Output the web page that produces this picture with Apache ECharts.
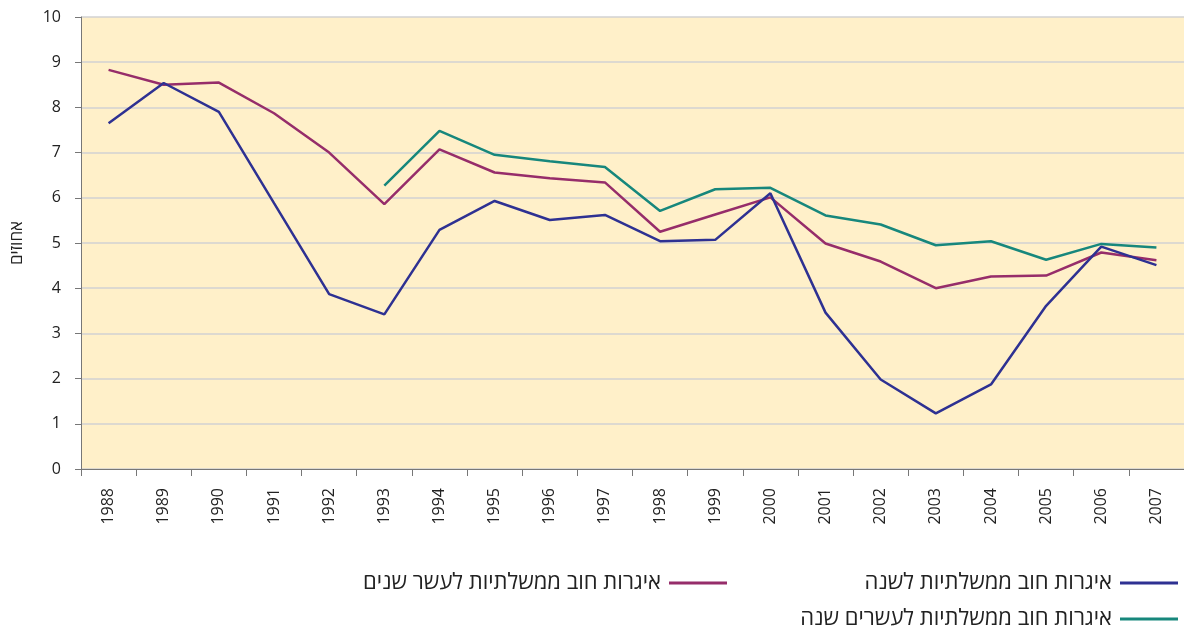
<!DOCTYPE html>
<html>
<head>
<meta charset="utf-8">
<script src="https://cdn.jsdelivr.net/npm/echarts@6/dist/echarts.min.js"></script>
<style>html,body{margin:0;padding:0;background:#fff;}#c{width:1184px;height:630px;}</style>
</head>
<body>
<div id="c"></div>
<script>
const years = ['1988','1989','1990','1991','1992','1993','1994','1995','1996','1997','1998','1999','2000','2001','2002','2003','2004','2005','2006','2007'];
const yTicks = [0,1,2,3,4,5,6,7,8,9,10];
const name1 = 'איגרות חוב ממשלתיות לשנה';
const name10 = 'איגרות חוב ממשלתיות לעשר שנים';
const name20 = 'איגרות חוב ממשלתיות לעשרים שנה';
const bond1 = [7.65,8.54,7.90,5.88,3.87,3.42,5.29,5.93,5.51,5.62,5.04,5.07,6.10,3.46,1.98,1.23,1.87,3.61,4.92,4.51];
const bond10 = [8.83,8.50,8.55,7.87,7.00,5.86,7.07,6.56,6.43,6.34,5.25,5.63,6.01,4.99,4.59,4.00,4.26,4.28,4.79,4.62];
const bond20 = [null,null,null,null,null,6.27,7.48,6.95,6.81,6.68,5.71,6.19,6.22,5.61,5.41,4.95,5.04,4.63,4.98,4.90];
const yAxisName = 'אחוזים';

const chart = echarts.init(document.getElementById('c'));
const font = "'Open Sans','DejaVu Sans',sans-serif";
function legend(nm, right, top){
  return {data:[nm], right:right, top:top, align:'right', icon:'rect', itemWidth:58, itemHeight:3, itemGap:0, padding:0,
    textStyle:{fontSize:22, color:'#222', fontFamily:font, padding:[0,3,0,0]}, selectedMode:false};
}
chart.setOption({
  animation:false,
  textStyle:{fontFamily:font},
  grid:{left:81, right:0, top:17, bottom:161, show:true, backgroundColor:'#fff0c9', borderWidth:0},
  legend:[legend(name1,6,572), legend(name10,457,572), legend(name20,6,608)],
  xAxis:{type:'category', data:years, boundaryGap:true,
    axisLine:{lineStyle:{color:'#777', width:1}},
    axisTick:{show:true, length:7, lineStyle:{color:'#777'}},
    axisLabel:{rotate:90, fontSize:16, color:'#222', margin:19, fontFamily:font}},
  yAxis:{type:'value', min:yTicks[0], max:yTicks[yTicks.length-1], interval:1,
    name:yAxisName, nameLocation:'middle', nameRotate:90, nameGap:55,
    nameTextStyle:{fontSize:17, color:'#222', fontFamily:font},
    axisLine:{show:true, lineStyle:{color:'#777'}},
    axisTick:{show:true, length:6, lineStyle:{color:'#777'}},
    axisLabel:{fontSize:16, color:'#222', margin:20, fontFamily:font},
    splitLine:{lineStyle:{color:'#d2d2d2', width:1.5}}},
  series:[
    {name:name1, type:'line', data:bond1, showSymbol:false, symbol:'none', lineStyle:{width:2.5, color:'#2e3192'}, itemStyle:{color:'#2e3192'}, z:3},
    {name:name10, type:'line', data:bond10, showSymbol:false, symbol:'none', lineStyle:{width:2.5, color:'#962d6a'}, itemStyle:{color:'#962d6a'}, z:2},
    {name:name20, type:'line', data:bond20, showSymbol:false, symbol:'none', lineStyle:{width:2.5, color:'#17877c'}, itemStyle:{color:'#17877c'}, z:1}
  ]
});
</script>
</body>
</html>
